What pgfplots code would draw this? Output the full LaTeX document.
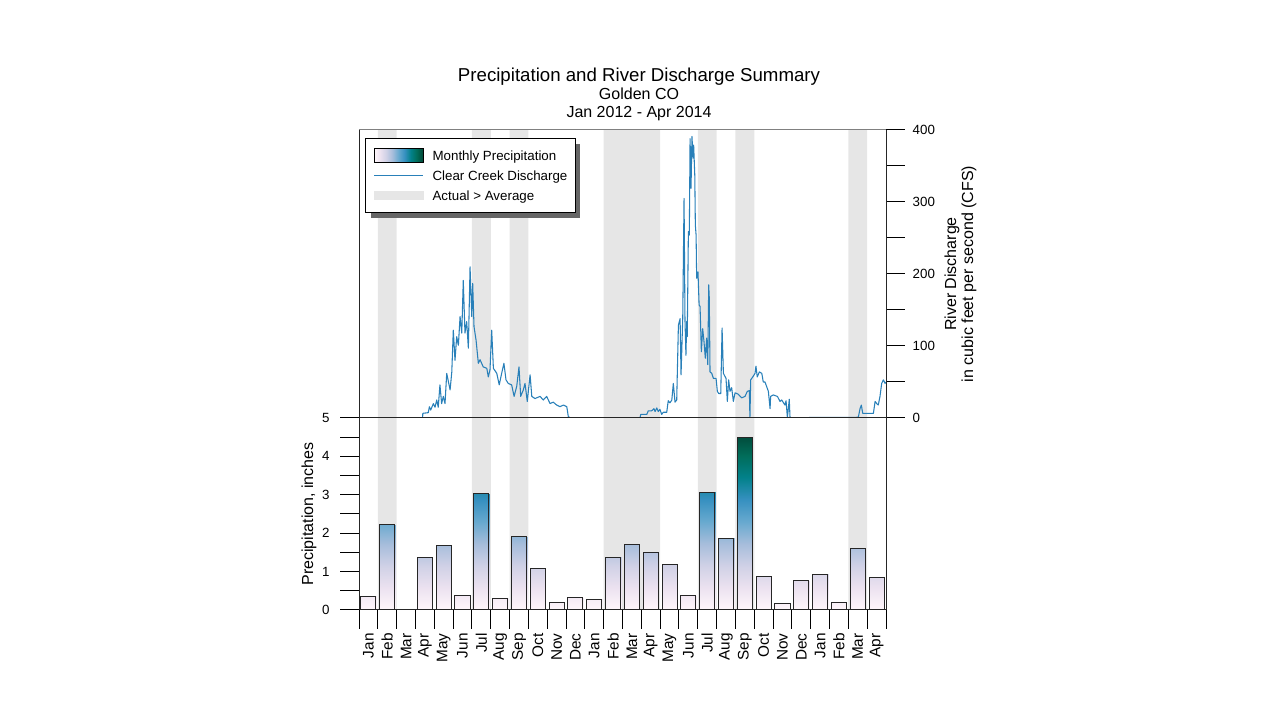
\documentclass[border=0pt]{standalone}
\usepackage{pgfplots}
\pgfplotsset{compat=1.18}
\usepackage{pgfplotstable}
\usepgfplotslibrary{patchplots}
\usepackage{fontspec}
\setmainfont{Liberation Sans}
\usetikzlibrary{shadows}

\makeatletter
\tikzset{no shadow/.code={\let\tikz@preactions\pgfutil@empty}}
\makeatother

\definecolor{pb0}{RGB}{255,247,251}
\definecolor{pb1}{RGB}{236,226,240}
\definecolor{pb2}{RGB}{208,209,230}
\definecolor{pb3}{RGB}{166,189,219}
\definecolor{pb4}{RGB}{103,169,207}
\definecolor{pb5}{RGB}{54,144,192}
\definecolor{pb6}{RGB}{2,129,138}
\definecolor{pb7}{RGB}{1,108,89}
\definecolor{pb8}{RGB}{1,70,54}
\definecolor{bandgray}{RGB}{230,230,230}
\definecolor{flowblue}{RGB}{41,128,185}

\pgfplotsset{colormap={pubugn}{rgb255=(255,247,251) rgb255=(236,226,240) rgb255=(208,209,230) rgb255=(166,189,219) rgb255=(103,169,207) rgb255=(54,144,192) rgb255=(2,129,138) rgb255=(1,108,89) rgb255=(1,70,54)}}

\pgfdeclarehorizontalshading{pubugnh}{100bp}{color(0bp)=(pb0); color(25bp)=(pb0); color(31.25bp)=(pb1); color(37.5bp)=(pb2); color(43.75bp)=(pb3); color(50bp)=(pb4); color(56.25bp)=(pb5); color(62.5bp)=(pb6); color(68.75bp)=(pb7); color(75bp)=(pb8); color(100bp)=(pb8)}

% monthly precipitation (inches), Jan 2012 - Apr 2014, bar centres at month index + 0.5
\pgfplotstableread{
x p
0.5 0.36
1.5 2.22
2.5 0.01
3.5 1.36
4.5 1.69
5.5 0.37
6.5 3.03
7.5 0.30
8.5 1.91
9.5 1.07
10.5 0.19
11.5 0.32
12.5 0.28
13.5 1.37
14.5 1.70
15.5 1.51
16.5 1.19
17.5 0.37
18.5 3.06
19.5 1.87
20.5 4.50
21.5 0.88
22.5 0.16
23.5 0.76
24.5 0.93
25.5 0.20
26.5 1.61
27.5 0.85
}\precip

% months where actual > average (1 = shaded)
\pgfplotstableread{
x b
0 0
1 1
2 0
6 1
7 0
8 1
9 0
13 1
16 0
18 1
19 0
20 1
21 0
26 1
27 0
28 0
}\bands

% Clear Creek discharge (CFS); t in months since Jan 2012
\pgfplotstableread{
t q
1.01 0.5
3.38 0.5
3.39 6.5
3.68 7.4
3.74 15.7
3.81 11
3.95 20
4.04 15
4.13 25
4.21 15
4.30 46
4.39 20
4.48 30
4.57 20
4.66 62
4.84 39
4.93 64
5.01 122
5.10 80
5.19 113
5.28 101
5.37 141
5.46 118
5.54 191
5.63 118
5.72 134
5.81 97
5.90 210
5.99 141
6.04 187
6.11 127
6.22 108
6.34 76
6.43 81
6.60 71
6.79 69
6.87 57
6.96 67
7.05 122
7.14 69
7.32 62
7.45 46
7.58 62
7.70 76
7.81 53
7.93 48
8.11 46
8.24 30
8.38 44
8.50 71
8.59 30
8.73 39
8.82 48
8.94 23
9.09 60
9.18 30
9.35 27
9.62 30
9.79 25
9.97 30
10.15 20
10.32 22
10.50 18
10.68 15.7
10.86 18
11.04 15.7
11.12 2
11.21 0.5
14.93 0.5
14.97 5
15.29 5
15.37 10
15.55 10
15.67 13
15.73 9
15.82 14
15.90 9
15.99 12
16.08 5
16.17 8
16.35 8
16.43 24
16.52 21
16.62 25
16.70 48
16.79 22
16.88 25
16.97 129
17.06 138
17.11 60
17.20 138
17.27 305
17.32 135
17.37 87
17.41 134
17.44 113
17.50 259
17.55 254
17.59 388
17.64 319
17.69 391
17.75 361
17.78 379
17.84 337
17.87 268
17.91 254
17.94 194
18.01 203
18.07 157
18.12 155
18.19 92
18.26 124
18.33 106
18.40 83
18.47 111
18.53 74
18.58 185
18.61 167
18.65 64
18.74 62
18.83 55
18.97 55
19.04 37
19.11 34
19.22 34
19.29 125
19.36 62
19.50 55
19.57 23
19.64 53
19.71 37
19.80 42
19.89 23
19.98 35
20.15 33
20.33 28
20.51 30
20.63 37
20.74 38
20.77 0
20.81 53
20.92 57
21.04 62
21.09 72
21.16 57
21.27 64
21.40 62
21.48 50
21.57 50
21.75 37
21.84 13
21.87 30
22.01 32
22.23 30
22.37 23
22.46 25
22.63 18
22.69 24
22.76 0.5
22.86 26
22.90 0.5
26.53 1
26.62 13
26.69 18
26.76 6.5
27.33 6.5
27.42 23
27.51 20
27.59 18
27.68 30
27.77 48
27.86 53
27.95 48
28.00 50
}\flow

\begin{document}
\begin{tikzpicture}
\path[use as bounding box] (0pt,0pt) rectangle (960pt,540pt);

% build the gradient patches from the precipitation table
\pgfplotstablegetrowsof{\precip}
\pgfmathtruncatemacro\nlast{\pgfplotsretval-1}
\gdef\barcoords{}
\foreach \i in {0,...,\nlast}{%
  \pgfplotstablegetelem{\i}{x}\of{\precip}\let\xx\pgfplotsretval
  \pgfplotstablegetelem{\i}{p}\of{\precip}\let\pp\pgfplotsretval
  \pgfmathsetmacro\xa{\xx-0.4}%
  \pgfmathsetmacro\xb{\xx+0.4}%
  \xdef\barcoords{\barcoords (\xa,0) (\xb,0) (\xb,\pp) (\xa,\pp)}%
}

\pgfplotsset{
  common/.style={
    scale only axis, width=395.25pt,
    xmin=0, xmax=28,
    axis on top,
    tick align=outside,
    major tick length=14pt, minor tick length=14pt,
    tick style={black, line width=0.75pt},
    /pgf/number format/assume math mode=true,
    ticklabel style={font=\fontsize{10}{12}\selectfont},
  },
}

% ---------------- top panel: discharge ----------------
\begin{axis}[common,
  at={(269.25pt,226.5pt)}, anchor=south west, height=216pt,
  ymin=0, ymax=400,
  xtick=\empty,
  ytick={0,100,...,400}, minor ytick={50,150,250,350},
  ytick pos=right, yticklabel pos=right,
  separate axis lines,
  x axis line style={black!50, line width=0.75pt},
  y axis line style={black!85, line width=0.75pt},
  yticklabel style={xshift=2.5pt},
  legend cell align=left,
  legend style={at={(rel axis cs:0.0114,0.972)}, anchor=north west,
    draw=black, line width=0.75pt, fill=white,
    font=\fontsize{10}{12}\selectfont,
    inner xsep=6pt, inner ysep=5.25pt, row sep=0pt, column sep=6.75pt,
    nodes={inner xsep=0pt, inner ysep=2.5pt, text height=7.5pt, text depth=2.5pt},
    drop shadow={shadow xshift=3.75pt, shadow yshift=-3.75pt, fill=black!60, opacity=1}},
  every axis y label/.style={at={(rel axis cs:1.1414,0.5)}, rotate=90, anchor=center,
    align=center, font=\fontsize{12}{12.75}\selectfont},
  ylabel={River Discharge\\in cubic feet per second (CFS)},
]
\addplot[ybar interval, fill=bandgray, draw=none, forget plot] table[x=x, y expr=\thisrow{b}*400] {\bands};
\addplot[flowblue, line width=0.8pt, line join=round, forget plot] table[x=t, y=q] {\flow};
\addlegendimage{legend image code/.code={\shadedraw[no shadow, shading=pubugnh, draw=black, line width=0.75pt] (0pt,-5.25pt) rectangle (36.75pt,5.25pt);}}
\addlegendentry{\raisebox{-1.5pt}{Monthly Precipitation}}
\addlegendimage{legend image code/.code={\draw[no shadow, flowblue, line width=0.8pt] (0pt,0pt) -- (36.75pt,0pt);}}
\addlegendentry{\raisebox{-1.5pt}{Clear Creek Discharge}}
\addlegendimage{legend image code/.code={\fill[no shadow, bandgray] (0pt,-3pt) rectangle (36.75pt,3pt);}}
\addlegendentry{\raisebox{-1.5pt}{Actual > Average}}
\end{axis}

% ---------------- bottom panel: precipitation ----------------
\begin{axis}[common,
  at={(269.25pt,82.5pt)}, anchor=south west, height=144pt,
  ymin=0, ymax=5,
  axis line style={black!85, line width=0.75pt},
  xtick={0,...,28},
  xticklabels={Jan,Feb,Mar,Apr,May,Jun,Jul,Aug,Sep,Oct,Nov,Dec,Jan,Feb,Mar,Apr,May,Jun,Jul,Aug,Sep,Oct,Nov,Dec,Jan,Feb,Mar,Apr},
  x tick label as interval,
  xtick pos=bottom,
  xticklabel style={rotate=90, anchor=east, font=\fontsize{11.5}{13}\selectfont},
  ytick={0,...,5}, minor ytick={0.5,1.5,...,4.5},
  ytick pos=left,
  yticklabel style={xshift=-4.5pt},
  colormap name=pubugn,
  point meta min=0, point meta max=4.6,
  every axis y label/.style={at={(rel axis cs:-0.0949,0.5)}, rotate=90, anchor=center,
    font=\fontsize{12}{14}\selectfont},
  ylabel={Precipitation, inches},
  barshade/.style={patch, patch type=rectangle, shader=interp, point meta=y, forget plot},
]
\addplot[ybar interval, fill=bandgray, draw=none, forget plot] table[x=x, y expr=\thisrow{b}*5] {\bands};
\edef\tmp{\noexpand\addplot[barshade] coordinates {\barcoords};}\tmp
\addplot[ybar, bar width=0.8, fill=none, draw=black!85, line width=0.75pt, forget plot] table[x=x, y=p] {\precip};
\end{axis}

% titles
\node[anchor=base, font=\fontsize{14}{16}\selectfont] at (479.25pt,478.5pt) {Precipitation and River Discharge Summary};
\node[anchor=base, font=\fontsize{12}{14}\selectfont] at (479.25pt,465pt) {Golden CO};
\node[anchor=base, font=\fontsize{12}{14}\selectfont] at (479.25pt,451.5pt) {Jan 2012 - Apr 2014};
\end{tikzpicture}
\end{document}
